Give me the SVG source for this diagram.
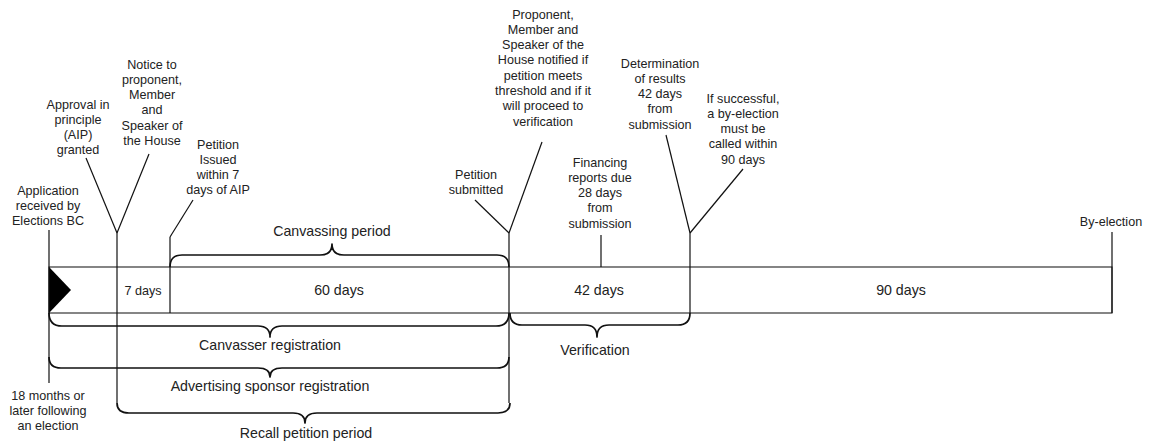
<svg xmlns="http://www.w3.org/2000/svg" width="1150" height="442" viewBox="0 0 1150 442">
<style>
text{font-family:"Liberation Sans",Arial,sans-serif;font-size:12.6px;fill:#222;text-anchor:middle}
text.big{font-size:14.2px}
.ln{stroke:#111;stroke-width:1.2;fill:none}
.br{stroke:#111;stroke-width:1.7;fill:none;stroke-linejoin:round}
.bar{stroke:#222;stroke-width:1.1;fill:#fff}
</style>
<rect width="1150" height="442" fill="#fff"/>
<g id="timeline">
<rect class="bar" x="49" y="267" width="1063" height="46"/>
<polygon points="49,267 71,290 49,313" fill="#000"/>
<text x="143" y="294.5">7 days</text>
<text class="big" x="339" y="295">60 days</text>
<text class="big" x="599" y="295">42 days</text>
<text class="big" x="901" y="295">90 days</text>
</g>
<g id="connectors">
<line class="ln" x1="49" y1="230" x2="49" y2="383"/>
<line class="ln" x1="117" y1="233" x2="117" y2="403"/>
<line class="ln" x1="117" y1="233" x2="86" y2="158"/>
<line class="ln" x1="117" y1="233" x2="149" y2="154"/>
<line class="ln" x1="170" y1="237" x2="170" y2="313"/>
<line class="ln" x1="170" y1="237" x2="193" y2="200"/>
<line class="ln" x1="509" y1="233" x2="509" y2="403"/>
<line class="ln" x1="509" y1="233" x2="475" y2="200"/>
<line class="ln" x1="509" y1="233" x2="542" y2="142"/>
<line class="ln" x1="601" y1="235" x2="601" y2="267"/>
<line class="ln" x1="690" y1="233" x2="690" y2="313"/>
<line class="ln" x1="690" y1="233" x2="666" y2="135"/>
<line class="ln" x1="690" y1="233" x2="743" y2="169"/>
<line class="ln" x1="1112" y1="232" x2="1112" y2="313" stroke-width="1.8"/>
</g>
<g id="braces">
<path class="br" d="M170,267 Q170,255 182,255 H320 Q332,255 332,244 Q332,255 344,255 H497 Q509,255 509,267"/>
<path class="br" d="M49,313 Q49,326 62,326 H258 Q270,326 270,337 Q270,326 282,326 H496 Q509,326 509,313"/>
<path class="br" d="M49,357 Q49,368 61,368 H258 Q270,368 270,377 Q270,368 282,368 H497 Q509,368 509,357"/>
<path class="br" d="M117,403 Q117,413 129,413 H293 Q305,413 305,423 Q305,413 317,413 H498 Q510,413 510,403"/>
<path class="br" d="M510,313 Q510,325 522,325 H585 Q597,325 597,337 Q597,325 609,325 H678 Q690,325 690,313"/>
</g>
<g id="n-application">
<text x="48" y="194.5">Application</text>
<text x="48" y="209.8">received by</text>
<text x="48" y="225.1">Elections BC</text>
</g>
<g id="n-18months">
<text x="48" y="399.5">18 months or</text>
<text x="48" y="414.8">later following</text>
<text x="48" y="430.1">an election</text>
</g>
<g id="n-aip">
<text x="78" y="108.5">Approval in</text>
<text x="78" y="123.8">principle</text>
<text x="78" y="139.1">(AIP)</text>
<text x="78" y="154.4">granted</text>
</g>
<g id="n-notice">
<text x="152" y="68.5">Notice to</text>
<text x="152" y="83.8">proponent,</text>
<text x="152" y="99.1">Member</text>
<text x="152" y="114.4">and</text>
<text x="152" y="129.7">Speaker of</text>
<text x="152" y="145">the House</text>
</g>
<g id="n-issued">
<text x="218" y="148.5">Petition</text>
<text x="218" y="163.8">Issued</text>
<text x="218" y="179.1">within 7</text>
<text x="218" y="194.4">days of AIP</text>
</g>
<g id="n-canvassing">
<text class="big" x="332" y="235.5">Canvassing period</text>
</g>
<g id="n-submitted">
<text x="476" y="178.5">Petition</text>
<text x="476" y="193.8">submitted</text>
</g>
<g id="n-proponent">
<text x="543" y="18.5">Proponent,</text>
<text x="543" y="33.8">Member and</text>
<text x="543" y="49.1">Speaker of the</text>
<text x="543" y="64.4">House notified if</text>
<text x="543" y="79.7">petition meets</text>
<text x="543" y="95">threshold and if it</text>
<text x="543" y="110.3">will proceed to</text>
<text x="543" y="125.6">verification</text>
</g>
<g id="n-financing">
<text x="600" y="166.5">Financing</text>
<text x="600" y="181.8">reports due</text>
<text x="600" y="197.1">28 days</text>
<text x="600" y="212.4">from</text>
<text x="600" y="227.7">submission</text>
</g>
<g id="n-determination">
<text x="660" y="67.5">Determination</text>
<text x="660" y="82.8">of results</text>
<text x="660" y="98.1">42 days</text>
<text x="660" y="113.4">from</text>
<text x="660" y="128.7">submission</text>
</g>
<g id="n-successful">
<text x="743" y="102.5">If successful,</text>
<text x="743" y="117.8">a by-election</text>
<text x="743" y="133.1">must be</text>
<text x="743" y="148.4">called within</text>
<text x="743" y="163.7">90 days</text>
</g>
<g id="n-byelection">
<text x="1111" y="226">By-election</text>
</g>
<g id="n-canvasser">
<text class="big" x="270" y="350">Canvasser registration</text>
</g>
<g id="n-advertising">
<text class="big" x="270" y="391">Advertising sponsor registration</text>
</g>
<g id="n-recall">
<text class="big" x="306" y="437.5">Recall petition period</text>
</g>
<g id="n-verification">
<text class="big" x="595" y="355">Verification</text>
</g>
</svg>
